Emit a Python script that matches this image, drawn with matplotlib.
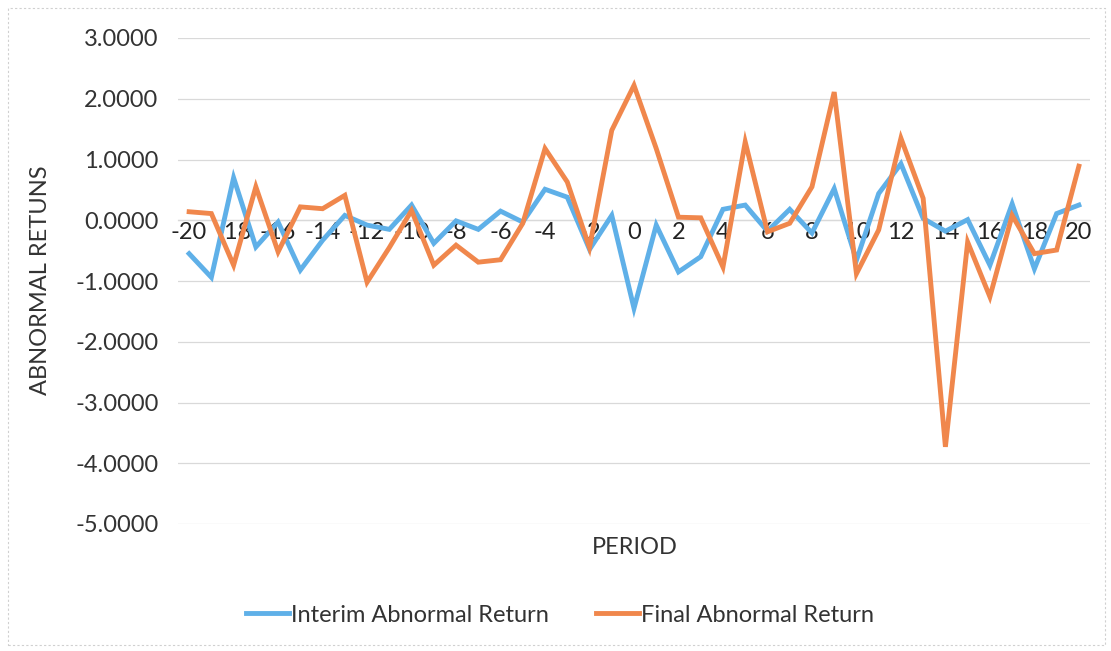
import matplotlib.pyplot as plt
from matplotlib.patches import Rectangle

# Event window and abnormal returns per period
periods = list(range(-20, 21))
interim_ar = [-0.55, -0.94, 0.70, -0.44, -0.03, -0.82, -0.33, 0.08, -0.08, -0.15,
              0.25, -0.38, -0.01, -0.15, 0.15, -0.03, 0.51, 0.38, -0.48, 0.08,
              -1.45, -0.08, -0.85, -0.60, 0.18, 0.25, -0.18, 0.18, -0.21, 0.52,
              -0.66, 0.44, 0.93, 0.03, -0.18, 0.01, -0.74, 0.27, -0.80, 0.11,
              0.25]
final_ar = [0.14, 0.11, -0.74, 0.55, -0.52, 0.22, 0.19, 0.41, -1.02, -0.45,
            0.16, -0.74, -0.41, -0.69, -0.65, -0.05, 1.18, 0.63, -0.45, 1.48,
            2.22, 1.18, 0.05, 0.04, -0.77, 1.29, -0.19, -0.05, 0.55, 2.11,
            -0.88, -0.16, 1.35, 0.36, -3.73, -0.36, -1.26, 0.08, -0.55, -0.49,
            0.89]
y_ticks = [3, 2, 1, 0, -1, -2, -3, -4, -5]
x_ticks = list(range(-20, 21, 2))

plt.rcParams['font.family'] = ['Lato', 'DejaVu Sans']
FS = 17
TXT = '#333333'

fig = plt.figure(figsize=(11.11, 6.51), dpi=100)
ax = fig.add_axes([178 / 1111, 1 - 524 / 651, (1090 - 178) / 1111, (524 - 38) / 651])

blue = '#5fb0e8'
orange = '#f0874c'

ax.plot(periods, interim_ar, color=blue, lw=3.5, solid_joinstyle='miter',
        label='Interim Abnormal Return', zorder=3)
ax.plot(periods, final_ar, color=orange, lw=3.5, solid_joinstyle='miter',
        label='Final Abnormal Return', zorder=4)

# horizontal axis crosses at zero
for side in ['top', 'right', 'left']:
    ax.spines[side].set_visible(False)
ax.spines['bottom'].set_position(('data', 0))
ax.spines['bottom'].set_color('#d9d9d9')
ax.spines['bottom'].set_linewidth(0.9)

ax.set_ylim(-5, 3)
ax.set_xlim(-20.5, 20.5)
ax.set_yticks(y_ticks)
ax.set_yticklabels([f'{v:.4f}' for v in y_ticks], fontsize=FS, color=TXT)
ax.set_xticks(x_ticks)
ax.set_xticklabels([str(v) for v in x_ticks], fontsize=FS, color='#222222')
ax.tick_params(axis='both', length=0)
ax.tick_params(axis='y', pad=14)
ax.tick_params(axis='x', pad=1)

ax.grid(axis='y', color='#d9d9d9', lw=0.9, zorder=0)

fig.text(635 / 1111, 1 - 547 / 651, 'PERIOD', fontsize=FS, color=TXT,
         ha='center', va='center')
fig.text(41 / 1111, 1 - 280 / 651, 'ABNORMAL RETUNS', fontsize=FS, color=TXT,
         ha='center', va='center', rotation=90)

fig.legend(loc='center', bbox_to_anchor=(560 / 1111, 1 - 615 / 651), ncol=2,
           frameon=False, fontsize=FS, handlelength=1.8, handletextpad=0.1,
           columnspacing=2.0, labelcolor=TXT)

fig.patches.append(Rectangle((8 / 1111, 6 / 651), 1097 / 1111, 637 / 651,
                             transform=fig.transFigure, fill=False,
                             edgecolor='#d0d0d0', lw=0.8, linestyle=(0, (2, 2))))

fig.savefig('out.png', dpi=100)
